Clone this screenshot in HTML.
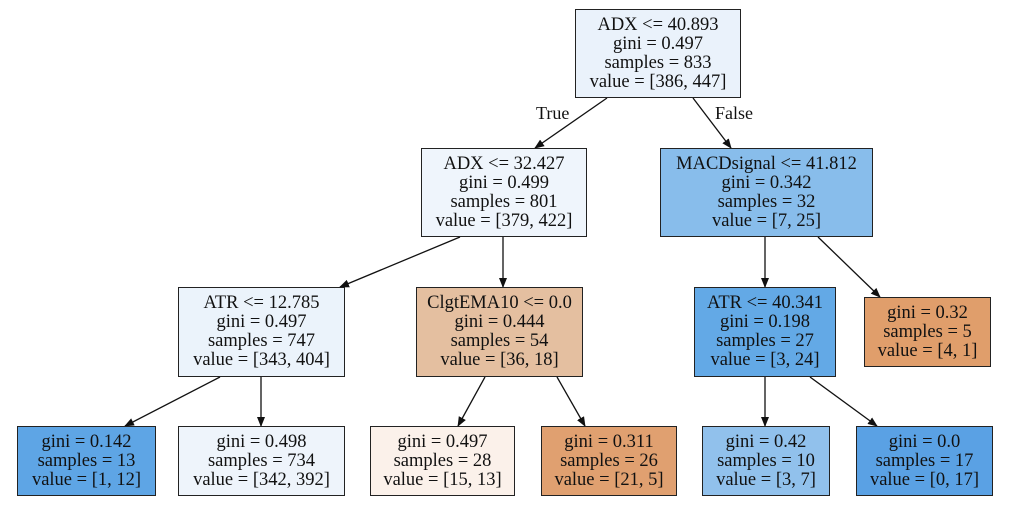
<!DOCTYPE html>
<html><head><style>
body{margin:0;width:1024px;height:507px;background:#fff;position:relative;overflow:hidden;font-family:"Liberation Serif",serif;}
.n{position:absolute;box-sizing:border-box;border:1.3px solid #222;text-align:center;font-size:18.5px;line-height:19px;color:#111;display:flex;flex-direction:column;justify-content:center;white-space:nowrap;}
.l{position:absolute;font-size:18px;color:#111;}
svg{position:absolute;left:0;top:0;}
</style></head><body>
<svg width="1024" height="507">
<defs><marker id="a" markerWidth="10" markerHeight="10" refX="9" refY="5" orient="auto" markerUnits="userSpaceOnUse"><path d="M0,1 L10,5 L0,9 Z" fill="#111"/></marker></defs>
<g stroke="#111" stroke-width="1.3" marker-end="url(#a)">
<line x1="607" y1="98" x2="535" y2="148"/>
<line x1="693" y1="98" x2="731" y2="148"/>
<line x1="460" y1="237" x2="340" y2="287"/>
<line x1="503" y1="237" x2="503" y2="287"/>
<line x1="765" y1="237" x2="765" y2="287"/>
<line x1="818" y1="237" x2="880" y2="297"/>
<line x1="220" y1="377" x2="125" y2="426"/>
<line x1="261" y1="377" x2="261" y2="426"/>
<line x1="485" y1="377" x2="458" y2="426"/>
<line x1="557" y1="377" x2="585" y2="426"/>
<line x1="765" y1="377" x2="765" y2="426"/>
<line x1="810" y1="377" x2="877" y2="426"/>
</g></svg>
<div class="l" style="left:536px;top:103px">True</div>
<div class="l" style="left:715px;top:103px">False</div>
<div class="n" style="left:575px;top:9px;width:166px;height:89px;background:#eaf2fb">ADX &lt;= 40.893<br>gini = 0.497<br>samples = 833<br>value = [386, 447]</div>
<div class="n" style="left:421px;top:148px;width:166px;height:89px;background:#eff5fc">ADX &lt;= 32.427<br>gini = 0.499<br>samples = 801<br>value = [379, 422]</div>
<div class="n" style="left:660px;top:148px;width:213px;height:89px;background:#88bdeb">MACDsignal &lt;= 41.812<br>gini = 0.342<br>samples = 32<br>value = [7, 25]</div>
<div class="n" style="left:178px;top:287px;width:167px;height:90px;background:#ebf3fb">ATR &lt;= 12.785<br>gini = 0.497<br>samples = 747<br>value = [343, 404]</div>
<div class="n" style="left:416px;top:287px;width:167px;height:90px;background:#e4bfa0">ClgtEMA10 &lt;= 0.0<br>gini = 0.444<br>samples = 54<br>value = [36, 18]</div>
<div class="n" style="left:694px;top:287px;width:142px;height:90px;background:#63a9e6">ATR &lt;= 40.341<br>gini = 0.198<br>samples = 27<br>value = [3, 24]</div>
<div class="n" style="left:864px;top:297px;width:127px;height:70px;background:#e09e6b">gini = 0.32<br>samples = 5<br>value = [4, 1]</div>
<div class="n" style="left:17px;top:426px;width:139px;height:70px;background:#5ea5e5">gini = 0.142<br>samples = 13<br>value = [1, 12]</div>
<div class="n" style="left:178px;top:426px;width:167px;height:70px;background:#eef4fb">gini = 0.498<br>samples = 734<br>value = [342, 392]</div>
<div class="n" style="left:370px;top:426px;width:145px;height:70px;background:#fbf1ea">gini = 0.497<br>samples = 28<br>value = [15, 13]</div>
<div class="n" style="left:541px;top:426px;width:136px;height:70px;background:#e0a070">gini = 0.311<br>samples = 26<br>value = [21, 5]</div>
<div class="n" style="left:702px;top:426px;width:128px;height:70px;background:#91c1ec">gini = 0.42<br>samples = 10<br>value = [3, 7]</div>
<div class="n" style="left:856px;top:426px;width:137px;height:70px;background:#5aa1e4">gini = 0.0<br>samples = 17<br>value = [0, 17]</div>
</body></html>
